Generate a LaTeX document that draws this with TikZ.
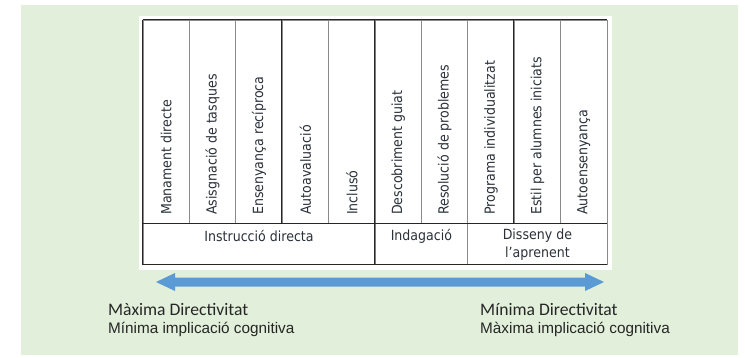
\documentclass[tikz,border=0pt]{standalone}
\usepackage{fontspec}
\usetikzlibrary{calc}
\newfontfamily\tabfont{DejaVu Sans}[FakeStretch=0.9]
\newfontfamily\calfont{Carlito}
\newfontfamily\arfont{Liberation Sans}
\definecolor{bggreen}{HTML}{E2EFDA}
\definecolor{arrowblue}{HTML}{5B9BD5}
\definecolor{tabtext}{HTML}{2B313A}
\definecolor{lightline}{HTML}{8A8A8A}
\tikzset{
  cell/.style={draw=lightline, line width=0.9pt, minimum width=46.4pt, minimum height=203pt, inner sep=0pt},
  lowcell/.style={draw=lightline, line width=0.9pt, minimum height=41pt, inner sep=0pt},
  vtext/.style={rotate=90, anchor=west, inner sep=0pt, text=tabtext, font=\tabfont\fontsize{14}{17}\selectfont},
  htext/.style={anchor=base, inner sep=0pt, text=tabtext, align=center, font=\tabfont\fontsize{14}{18}\selectfont},
  darkline/.style={draw=black!85, line width=1.1pt},
  bigtext/.style={anchor=base west, inner sep=0pt, text=black!85, font=\calfont\fontsize{17.6}{20}\selectfont},
  smalltext/.style={anchor=base west, inner sep=0pt, text=black!85, font=\arfont\fontsize{15.3}{18}\selectfont},
}
\begin{document}
\begin{tikzpicture}[x=1pt, y=-1pt]
\useasboundingbox (0,0) rectangle (745,357);
\fill[white] (0,0) rectangle (745,357);
\fill[bggreen] (21,5) rectangle (738,355);
\fill[white] (139,16) rectangle (612,270);
% upper cells
\foreach \i/\t in {1/Manament directe, 2/Asisgnació de tasques, 3/Ensenyança recíproca, 4/Autoavaluació, 5/Inclusó, 6/Descobriment guiat, 7/Resolució de problemes, 8/Programa individualitzat, 9/Estil per alumnes iniciats, 10/Autoensenyança} {
  \node[cell] (c\i) at ({143+46.4*(\i-0.5)},121.5) {};
  \node[vtext] (t\i) at ({143+46.4*(\i-0.5)},215) {\t};
}
% lower cells
\node[lowcell, minimum width=232pt] (instr) at (259,243.5) {};
\node[lowcell, minimum width=92.8pt] (indag) at (421.4,243.5) {};
\node[lowcell, minimum width=139.2pt] (diss) at (537.4,243.5) {};
\node[htext] (linstr) at (259,241) {Instrucció directa};
\node[htext] (lindag) at (421.4,240) {Indagació};
\node[htext, anchor=north] (ldiss) at (537.4,228.5) {Disseny de\\l’aprenent};
% darker lines
\draw[darkline] (c1.north west) -- (instr.south west) -- (diss.south east);
\draw[darkline] (c1.north west) -- (c10.north east);
\draw[darkline] (c4.north west) -- (c4.south west);
\draw[darkline] (c6.north west) -- (indag.south west);
\draw[darkline] (c9.north west) -- (c9.south west);
\draw[darkline] (c1.south west) -- (c10.south east);
% arrow
\coordinate (aL) at (156,282);
\coordinate (aR) at (604,282);
\fill[arrowblue] (aL) -- ++(19,-9) -- ++(0,4.5) -- ($(aR)+(-19,-4.5)$) -- ++(0,-4.5) -- (aR) -- ++(-19,9) -- ++(0,-4.5) -- ($(aL)+(19,4.5)$) -- ++(0,4.5) -- cycle;
% labels
\node[bigtext] (maxd) at (108,315) {Màxima Directivitat};
\node[smalltext] (minc) at (108,333) {Mínima implicació cognitiva};
\node[bigtext] (mind) at (480,315) {Mínima Directivitat};
\node[smalltext] (maxc) at (480,333) {Màxima implicació cognitiva};
\end{tikzpicture}
\end{document}
